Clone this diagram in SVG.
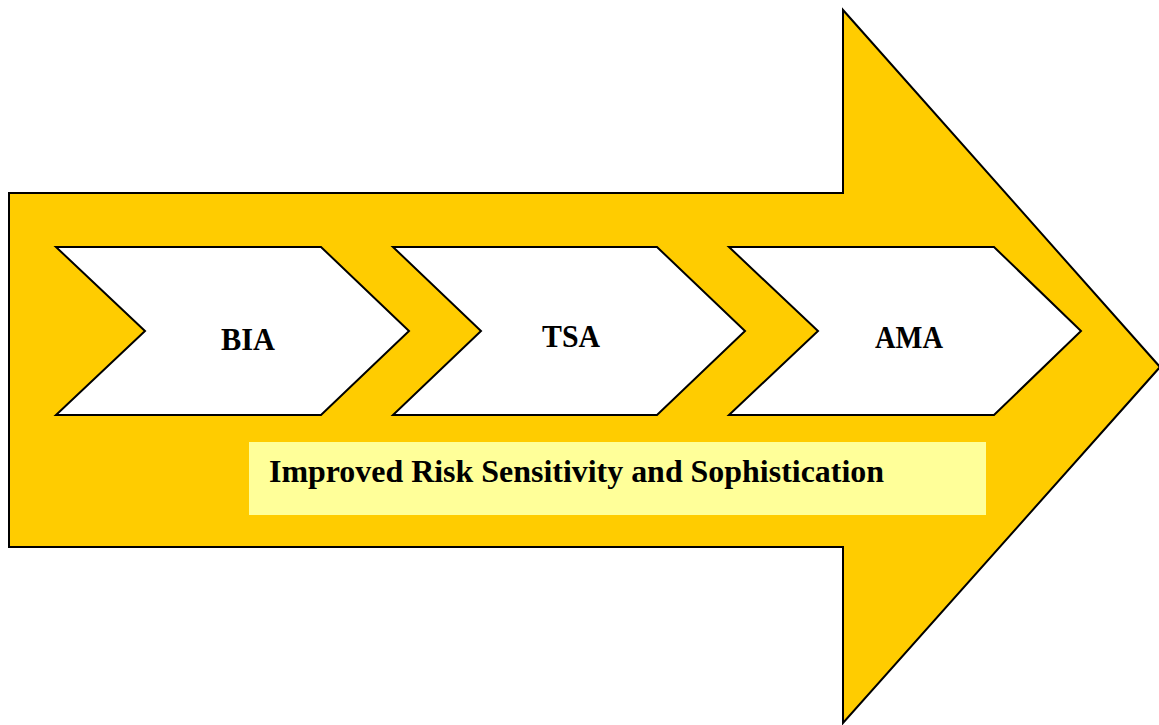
<svg xmlns="http://www.w3.org/2000/svg" width="1159" height="725" viewBox="0 0 1159 725">
  <style>
    .arrow { fill: #FFCC00; stroke: #000000; stroke-width: 2; stroke-linejoin: miter; }
    .chevron { fill: #FFFFFF; stroke: #000000; stroke-width: 2; stroke-linejoin: miter; }
    .band { fill: #FFFF99; stroke: none; }
    .label { font-family: "Liberation Serif", "Times New Roman", serif; font-weight: bold; font-size: 31px; fill: #000000; }
    .caption { font-size: 31px; }
  </style>
  <rect width="1159" height="725" fill="#FFFFFF"/>

  <!-- large progression arrow -->
  <g id="progress-arrow">
    <polygon class="arrow" points="9,193 843,193 843,10 1160,367 843,723 843,547 9,547"/>
  </g>

  <g id="connectors"></g>

  <!-- stage chevrons -->
  <g id="stage-bia">
    <polygon class="chevron" points="56,247 321,247 409,331 321,415 56,415 145,331"/>
    <text class="label" x="221" y="350" textLength="54" lengthAdjust="spacingAndGlyphs">BIA</text>
  </g>
  <g id="stage-tsa">
    <polygon class="chevron" points="393,247 657,247 745,331 657,415 393,415 481,331"/>
    <text class="label" x="542" y="347" textLength="58" lengthAdjust="spacingAndGlyphs">TSA</text>
  </g>
  <g id="stage-ama">
    <polygon class="chevron" points="729,247 994,247 1081,331 994,415 729,415 818,331"/>
    <text class="label" x="875" y="348" textLength="68" lengthAdjust="spacingAndGlyphs">AMA</text>
  </g>

  <!-- caption band -->
  <g id="caption">
    <rect class="band" x="249" y="442" width="737" height="73"/>
    <text class="label caption" x="269" y="482" textLength="615" lengthAdjust="spacingAndGlyphs">Improved Risk Sensitivity and Sophistication</text>
  </g>
</svg>
